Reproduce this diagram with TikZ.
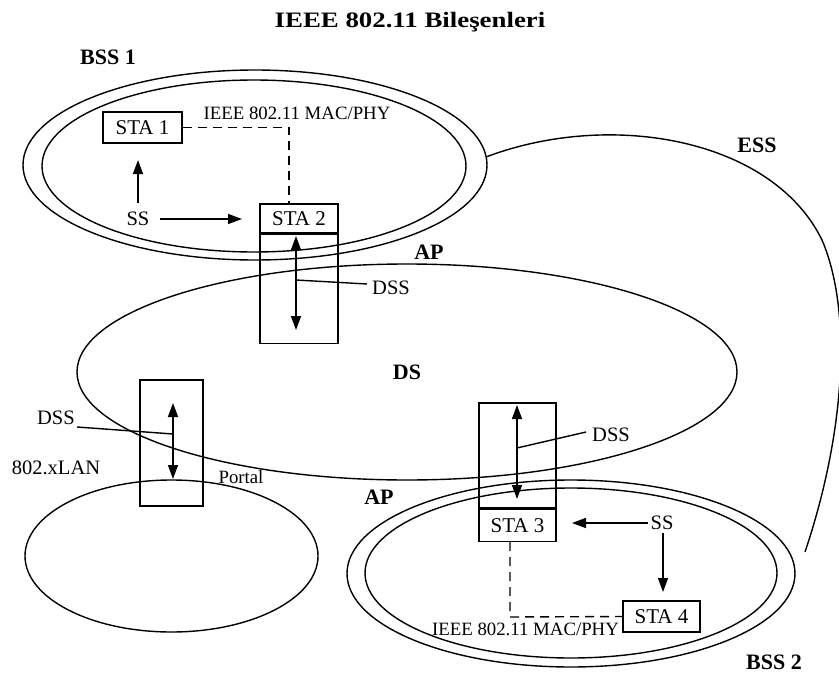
\documentclass[tikz,border=0pt]{standalone}
\usepackage{fontspec}
\setmainfont{Liberation Serif}
\newfontfamily\titlefont{Liberation Serif}[FakeStretch=1.22]
\usetikzlibrary{arrows.meta,calc}
\begin{document}
\begin{tikzpicture}[x=1pt,y=-1pt,
  line width=1.4pt,
  box/.style={draw,line width=1.4pt,inner sep=0pt,font=\fontsize{21}{21}\selectfont},
  lbl/.style={inner sep=0pt,font=\fontsize{20.5}{21}\selectfont},
  small/.style={inner sep=0pt,font=\fontsize{18.8}{19}\selectfont},
  bold/.style={inner sep=0pt,font=\fontsize{22}{22}\selectfont\bfseries},
  arr/.style={-{Triangle[length=14pt,width=10pt]}},
  darr/.style={{Triangle[length=14pt,width=10pt]}-{Triangle[length=14pt,width=10pt]}},
  dsh/.style={dash pattern=on 9pt off 6pt}]
\useasboundingbox (0,0) rectangle (839,675);
\fill[white] (0,0) rectangle (839,675);

% title and bold labels
\node[inner sep=0pt,font=\fontsize{22}{22}\selectfont\bfseries\titlefont] (title) at (410,22) {IEEE 802.11 Bileşenleri};
\node[bold] (bss1) at (108,57) {BSS 1};
\node[bold] (bss2) at (774,662) {BSS 2};
\node[bold] (ess) at (757,145) {ESS};
\node[bold] (ds) at (407,372) {DS};
\node[bold] (apt) at (429,252) {AP};
\node[bold] (apb) at (379,497) {AP};

% ellipses
\draw (255,165) ellipse [x radius=232, y radius=95];
\draw (254,166) ellipse [x radius=212, y radius=86];
\draw (407,372) ellipse [x radius=330, y radius=108];
\draw (171.5,556) ellipse [x radius=146.5, y radius=76];
\draw (571,573.5) ellipse [x radius=224, y radius=93.5];
\draw (571,573) ellipse [x radius=206, y radius=85];

% ESS curve
\coordinate (e1) at (486,157);
\coordinate (e2) at (805,552);
\draw (e1) .. controls (610,110) and (772,138) .. (822,240) .. controls (852,310) and (846,430) .. (e2);

% BSS 1
\node[box,minimum width=79pt,minimum height=31pt] (sta1) at (142.5,127.5) {STA 1};
\node[box,minimum width=78pt,minimum height=29pt] (sta2) at (299,218.5) {STA 2};
\node[box,minimum width=78pt,minimum height=109pt,anchor=north] (ap1) at (sta2.south) {};
\node[small] (mac1) at (297,113) {IEEE 802.11 MAC/PHY};
\coordinate (c1) at (289,127.5);
\draw[dsh] (sta1.east) -- (c1) -- (c1 |- sta2.north);
\node[lbl] (ss1) at (138,219) {SS};
\coordinate (ss1up) at (138,203);
\coordinate (sta1in) at (138,160);
\draw[arr] (ss1up) -- (sta1in);
\coordinate (ss1r) at (160,219);
\coordinate (sta2in) at (242,219);
\draw[arr] (ss1r) -- (sta2in);
\coordinate (a1t) at (296,236);
\coordinate (a1b) at (296,330);
\draw[darr] (a1t) -- (a1b);
\node[lbl] (dss1) at (391,288) {DSS};
\coordinate (d1) at (296,280);
\coordinate (d1e) at (367,284);
\draw (d1) -- (d1e);

% Portal
\node[box,minimum width=63pt,minimum height=126pt] (portal) at (171.5,443) {};
\coordinate (a2t) at (173,403);
\coordinate (a2b) at (173,479);
\draw[darr] (a2t) -- (a2b);
\node[lbl] (dss2) at (56,418) {DSS};
\coordinate (d2) at (173,434);
\coordinate (d2e) at (77,427);
\draw (d2e) -- (d2);
\node[lbl] (lan) at (56,468) {802.xLAN};
\node[small] (portaltxt) at (241,477) {Portal};

% BSS 2
\node[box,minimum width=77pt,minimum height=105pt] (ap2) at (517.5,455.5) {};
\node[box,minimum width=77pt,minimum height=32pt,anchor=north] (sta3) at (ap2.south) {STA 3};
\node[box,minimum width=77pt,minimum height=31pt] (sta4) at (661.5,616.5) {STA 4};
\coordinate (a3t) at (517,405);
\coordinate (a3b) at (517,499);
\draw[darr] (a3t) -- (a3b);
\coordinate (d3) at (517,448);
\coordinate (d3e) at (586,432);
\draw (d3) -- (d3e);
\node[lbl] (dss3) at (611,435) {DSS};
\coordinate (c3) at (510,617);
\draw[dsh] (c3 |- sta3.south) -- (c3) -- (sta4.west);
\node[small] (mac2) at (525.5,629) {IEEE 802.11 MAC/PHY};
\node[lbl] (ss2) at (662,523) {SS};
\coordinate (ss2l) at (648,523);
\coordinate (sta3in) at (572,523);
\draw[arr] (ss2l) -- (sta3in);
\coordinate (ss2d) at (663,533);
\coordinate (sta4in) at (663,592);
\draw[arr] (ss2d) -- (sta4in);
\end{tikzpicture}
\end{document}
